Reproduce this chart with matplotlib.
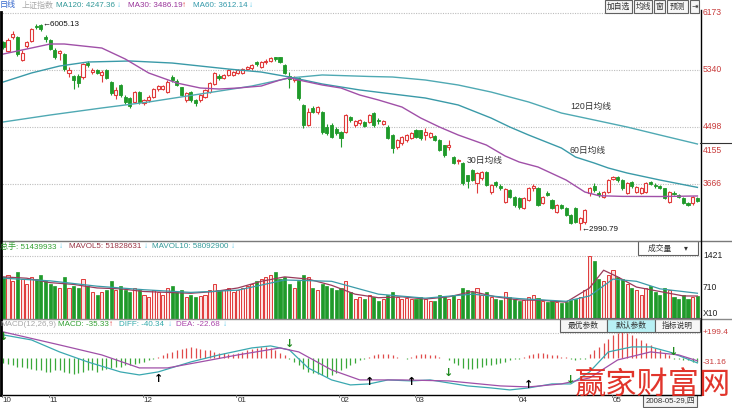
import matplotlib
matplotlib.use("Agg")
import matplotlib.pyplot as plt
from matplotlib.patches import Rectangle
from matplotlib.lines import Line2D
import numpy as np

plt.rcParams['font.family'] = ['Liberation Sans', 'Noto Sans CJK SC', 'DejaVu Sans']

# ---------------- data ----------------
opens = [5740, 5611, 5817, 5810, 5480, 5690, 5760, 5975, 5990, 5810,
         5770, 5625, 5582, 5567, 5289, 5245, 5245, 5230, 5440, 5300,
         5330, 5260, 5330, 5157, 4966, 5110, 4937, 4922, 4864, 5010,
         4850, 4893, 4937, 5054, 5060, 5010, 5225, 5170, 5083, 4893,
         5010, 4893, 4893, 4937, 5010, 5128, 5245, 5215, 5260, 5260,
         5290, 5290, 5347, 5360, 5450, 5376, 5450, 5465, 5520, 5520,
         5406, 5240, 5186, 5215, 4820, 4530, 4776, 4717, 4717, 4497,
         4526, 4468, 4424, 4424, 4643, 4526, 4550, 4570, 4570, 4700,
         4600, 4540, 4497, 4380, 4200, 4263, 4306, 4336, 4453, 4450,
         4380, 4350, 4365, 4306, 4230, 4200, 4057, 3995, 3970, 3790,
         3870, 3676, 3750, 3838, 3544, 3690, 3630, 3397, 3574, 3470,
         3456, 3310, 3427, 3600, 3603, 3383, 3530, 3427, 3251, 3353,
         3310, 3207, 3310, 3090, 3105, 3530, 3630, 3530, 3470, 3545,
         3735, 3760, 3720, 3530, 3690, 3545, 3530, 3545, 3690, 3650,
         3626, 3603, 3398, 3530, 3500, 3456, 3383, 3383, 3456]
highs = [5760, 5800, 5900, 5830, 5620, 5760, 5950, 6000, 6005.13, 5850,
         5790, 5660, 5630, 5580, 5380, 5260, 5270, 5430, 5460, 5360,
         5350, 5330, 5345, 5170, 5080, 5130, 4960, 4930, 5030, 5030,
         4910, 4960, 5070, 5110, 5120, 5180, 5260, 5200, 5090, 5010,
         5030, 4910, 4980, 5060, 5150, 5300, 5270, 5280, 5350, 5320,
         5345, 5360, 5390, 5420, 5470, 5460, 5490, 5520, 5522, 5530,
         5420, 5300, 5250, 5230, 4830, 4780, 4800, 4810, 4730, 4540,
         4560, 4490, 4440, 4690, 4660, 4600, 4620, 4590, 4690, 4720,
         4630, 4600, 4520, 4390, 4320, 4370, 4400, 4430, 4470, 4460,
         4480, 4430, 4380, 4320, 4240, 4300, 4070, 4030, 3980, 3800,
         3880, 3840, 3850, 3850, 3660, 3700, 3660, 3600, 3590, 3480,
         3470, 3470, 3620, 3660, 3620, 3490, 3560, 3440, 3370, 3370,
         3320, 3220, 3320, 3180, 3290, 3620, 3680, 3560, 3560, 3730,
         3786, 3780, 3730, 3690, 3700, 3630, 3620, 3690, 3710, 3670,
         3650, 3610, 3560, 3560, 3520, 3470, 3400, 3480, 3470]
lows = [5640, 5590, 5790, 5540, 5462, 5660, 5750, 5940, 5900, 5750,
        5620, 5500, 5480, 5320, 5230, 5054, 5080, 5200, 5370, 5270,
        5270, 5150, 5200, 4970, 4910, 4940, 4840, 4780, 4850, 4840,
        4820, 4870, 4920, 5030, 5040, 5000, 5160, 5100, 4950, 4870,
        4870, 4810, 4870, 4920, 5000, 5110, 5180, 5200, 5240, 5240,
        5270, 5280, 5330, 5340, 5390, 5360, 5420, 5450, 5470, 5430,
        5270, 5070, 5160, 4900, 4483, 4510, 4700, 4690, 4400, 4380,
        4330, 4380, 4204, 4410, 4570, 4490, 4530, 4490, 4550, 4500,
        4540, 4520, 4320, 4123, 4180, 4240, 4280, 4320, 4330, 4300,
        4300, 4330, 4290, 4150, 4060, 4160, 3950, 3950, 3650, 3610,
        3700, 3530, 3720, 3630, 3520, 3620, 3580, 3380, 3450, 3330,
        3300, 3290, 3410, 3560, 3340, 3370, 3480, 3300, 3230, 3290,
        3190, 3070, 3090, 2990.79, 3080, 3480, 3550, 3470, 3450, 3530,
        3720, 3690, 3580, 3510, 3610, 3530, 3510, 3530, 3640, 3600,
        3590, 3440, 3380, 3500, 3460, 3370, 3340, 3360, 3400]
closes = [5667, 5773, 5860, 5562, 5589, 5748, 5937, 5960, 5930, 5785,
          5634, 5530, 5611, 5347, 5330, 5186, 5142, 5420, 5400, 5335,
          5290, 5310, 5215, 4990, 5040, 4966, 4864, 4805, 5010, 4864,
          4893, 4937, 5054, 5098, 5098, 5157, 5190, 5115, 4966, 4996,
          4893, 4850, 4966, 5040, 5142, 5289, 5215, 5260, 5333, 5304,
          5330, 5347, 5376, 5406, 5420, 5450, 5470, 5508, 5500, 5450,
          5289, 5200, 5230, 4922, 4530, 4717, 4717, 4790, 4424, 4410,
          4350, 4410, 4336, 4672, 4600, 4585, 4600, 4510, 4670, 4526,
          4580, 4580, 4336, 4189, 4306, 4350, 4380, 4410, 4350, 4336,
          4420, 4410, 4306, 4160, 4087, 4240, 3970, 4010, 3676, 3705,
          3720, 3823, 3838, 3647, 3647, 3647, 3600, 3588, 3470, 3353,
          3324, 3456, 3603, 3630, 3353, 3471, 3500, 3310, 3353, 3310,
          3207, 3090, 3105, 3163, 3280, 3600, 3580, 3500, 3545, 3720,
          3760, 3720, 3603, 3676, 3630, 3615, 3600, 3676, 3665, 3630,
          3610, 3456, 3545, 3515, 3475, 3383, 3360, 3470, 3412]
volumes = [950, 1000, 850, 1050, 900, 800, 950, 900, 1000,
           850, 800, 750, 700, 950, 700, 750, 700, 900, 750, 600, 550, 600, 650, 850, 650, 750, 650, 600, 700, 650,
           550, 500, 650, 600, 550, 700, 750, 600, 650, 500, 550, 500, 520, 550, 650, 800, 650, 650, 700, 600,
           650, 700, 750, 800, 850, 900, 950, 1000, 1050, 900, 950, 800, 700, 850, 1000, 950, 700, 650, 800, 750, 700, 650,
           700, 850, 600, 450, 500, 450, 550, 500, 400, 450, 550, 600, 500, 450, 480, 450,
           450, 500, 450, 400, 400, 550, 500, 450, 550, 450, 700, 650, 600, 700, 550, 600, 500, 450, 420, 600, 500,
           450, 400, 420, 500, 550, 480, 400, 380, 400, 380, 350, 380, 420, 450, 500, 650,
           1421, 1300, 900, 850, 1000, 1100, 950, 900, 800, 700, 650, 550, 700, 750, 600, 550, 700, 650, 500, 450, 550, 450, 500, 514]

ma30_idx = [0, 10, 13, 21, 26, 31, 37, 42, 46, 50, 55, 59, 61, 63, 68, 72, 76, 80, 85, 89, 93, 97, 103, 107, 110, 114, 120, 124, 127, 132, 140, 148]
ma30_val = [5567, 5714, 5714, 5655, 5494, 5289, 5142, 5069, 5054, 5069, 5098, 5186, 5220, 5186, 5113, 5069, 4966, 4893, 4790, 4629, 4497, 4380, 4233, 4072, 3984, 3911, 3720, 3544, 3490, 3480, 3478, 3486]
ma60_idx = [0, 6, 12, 18, 27, 36, 42, 48, 55, 61, 68, 76, 90, 97, 104, 108, 112, 119, 122, 126, 129, 133, 140, 148]
ma60_val = [5157, 5289, 5391, 5450, 5465, 5435, 5391, 5347, 5303, 5230, 5128, 5040, 4922, 4820, 4629, 4497, 4380, 4189, 4057, 3969, 3896, 3823, 3720, 3612]
ma120_idx = [0, 10, 21, 31, 42, 53, 61, 68, 78, 83, 90, 97, 104, 112, 119, 126, 133, 140, 148]
ma120_val = [4571, 4673, 4776, 4864, 4981, 5098, 5216, 5260, 5238, 5230, 5186, 5113, 5010, 4864, 4702, 4600, 4497, 4380, 4248]

mavol5_idx = [0, 5, 10, 15, 20, 25, 30, 35, 40, 45, 50, 55, 60, 65, 70, 75, 80, 85, 90, 95, 100, 105, 110, 115, 120, 125, 128, 131, 135, 140, 145, 148]
mavol5_val = [950, 920, 820, 780, 700, 680, 620, 600, 580, 620, 700, 850, 950, 900, 760, 560, 480, 500, 450, 500, 620, 500, 430, 420, 380, 700, 1100, 950, 720, 620, 520, 518]
mavol10_idx = [0, 10, 20, 30, 40, 50, 60, 70, 80, 90, 100, 110, 120, 125, 130, 135, 140, 148]
mavol10_val = [920, 860, 740, 660, 600, 650, 880, 850, 560, 470, 560, 460, 400, 520, 900, 850, 680, 581]

macd_hist = [-40, -50, -60, -70, -70,
             -80, -90, -100, -100, -110, -110, -100, -100,
             -110, -120, -130, -120, -110, -100, -100, -110, -100, -90,
             -80, -70, -70, -60, -60, -50, -40, -30, -20, -10,
             10, 20, 40, 50, 60, 70, 80, 90, 80, 70, 60, 60,
             50, 40, 40, 30, 30,
             40, 50, 60, 70, 80, 90, 90, 80, 60, 40, 20,
             -10, -30, -60, -90, -110, -120, -130, -140, -150, -140, -120, -100, -80, -60, -40, -20,
             -10, 10, 20, 30, 30, 30, 20, 10, 0, -10,
             10, 20, 30, 30, 20, 20, 10, 0,
             -20, -40, -60, -80, -90, -90, -80, -70, -60, -60, -50, -40, -30, -20, -10, -5,
             10, 20, 30, 40, 40, 30, 20, 20, 10, 5,
             -10, -20, -10, -5,
             30, 60, 90, 120, 150, 180, 200, 210, 200, 180, 160, 140, 120, 100, 80, 60, 40, 20,
             -5, -10, -15, -20, -30, -35]
diff_idx = [0, 6, 12, 18, 25, 29, 33, 40, 46, 53, 57, 61, 65, 70, 74, 78, 82, 87, 91, 95, 99, 104, 108, 112, 117, 121, 125, 129, 134, 138, 142, 148]
diff_val = [184, 144, 48, -32, -112, -136, -112, -32, 24, 80, 96, 64, -80, -176, -216, -208, -176, -184, -176, -200, -224, -240, -256, -240, -208, -208, -112, 48, 88, 88, 48, -40]
dea_idx = [0, 12, 21, 29, 35, 42, 50, 59, 63, 70, 76, 85, 95, 106, 112, 119, 125, 131, 138, 144, 148]
dea_val = [208, 104, 24, -80, -80, -32, 24, 80, 48, -96, -176, -176, -184, -224, -232, -208, -160, -16, 48, 24, -23]
buy_idx = [33, 78, 87, 112]
buy_val = [-170, -195, -190, -215]
sell_idx = [0, 61, 95, 121, 143]
sell_val = [168, 110, -120, -180, 50]

month_idx = [0, 10, 30, 50, 72, 88, 110, 130]
month_lab = ['10', '11', '12', '01', '02', '03', '04', '05']
price_ticks = [6173, 5340, 4498, 4155, 3666]
vol_ticks = [1421, 710]

hdr_main = ['日线', '上证指数', 'MA120: 4247.36', '↓', 'MA30: 3486.19', '↑', 'MA60: 3612.14', '↓']
hdr_vol = ['总手: 51439933', '↓', 'MAVOL5: 51828631', '↓', 'MAVOL10: 58092900', '↓']
hdr_macd = ['MACD(12,26,9)', 'MACD: -35.33', '↑', 'DIFF: -40.34', '↓', 'DEA: -22.68', '↓']
top_buttons = ['加自选', '均线', '窗', '预测', '⇥']
macd_buttons = ['最优参数', '默认参数', '指标说明']

# ---------------- layout ----------------
W, H = 732, 408
fig = plt.figure(figsize=(W / 100, H / 100), dpi=100)
fig.patch.set_facecolor('white')


def rect(x0, y0, x1, y1):
    return [x0 / W, 1 - y1 / H, (x1 - x0) / W, (y1 - y0) / H]


def ptext(x, y, s, color='#000000', size=5.8, ha='left', va='center', **kw):
    fig.text(x / W, 1 - y / H, s, color=color, fontsize=size, ha=ha, va=va, **kw)


def hline(y, x0, x1, color, lw=1.0, ls='-'):
    fig.add_artist(Line2D([x0 / W, x1 / W], [1 - y / H, 1 - y / H], transform=fig.transFigure,
                          color=color, lw=lw, ls=ls))


def vline(x, y0, y1, color, lw=1.0):
    fig.add_artist(Line2D([x / W, x / W], [1 - y0 / H, 1 - y1 / H], transform=fig.transFigure,
                          color=color, lw=lw))


def button(x0, y0, x1, y1, s, face='#F4F4F4', size=5.6):
    fig.add_artist(Rectangle((x0 / W, 1 - y1 / H), (x1 - x0) / W, (y1 - y0) / H,
                             transform=fig.transFigure, facecolor=face, edgecolor='#606060', lw=0.8))
    ptext((x0 + x1) / 2, (y0 + y1) / 2 + 0.5, s, color='#333333', size=size, ha='center')


PX0, DX = 3.3, 4.69
XL = (-PX0 / DX, (700 - PX0) / DX)

ax = fig.add_axes(rect(0, 0, 700, 241))
axv = fig.add_axes(rect(0, 241, 700, 319))
axm = fig.add_axes(rect(0, 319, 700, 394))
for a in (ax, axv, axm):
    a.set_xlim(*XL)
    a.set_xticks([])
    a.set_yticks([])
    a.patch.set_alpha(0)
    for s in a.spines.values():
        s.set_visible(False)
ax.set_ylim(2826, 6359)
axv.set_ylim(0, 1759)
axm.set_ylim(-288.6, 311.4)

RED = '#E03A3A'
GREEN = '#1F9A2A'
n = len(closes)
x = np.arange(n)
o = np.array(opens, float)
c = np.array(closes, float)
hi = np.array(highs, float)
lo = np.array(lows, float)
up = c >= o
BW = 0.66

# grid
for p in [6173, 5340, 4498, 3666]:
    ax.axhline(p, color='#BDBDBD', lw=0.8, ls=(0, (1, 1.2)), zorder=0)
axv.axhline(1421, color='#BDBDBD', lw=0.8, ls=(0, (1, 1.2)), zorder=0)
axm.axhline(199.4, color='#BDBDBD', lw=0.8, ls=(0, (1, 1.2)), zorder=0)

# candles
ax.vlines(x[up], lo[up], hi[up], color=RED, lw=0.8, zorder=2)
ax.vlines(x[~up], lo[~up], hi[~up], color=GREEN, lw=0.8, zorder=2)
body_lo = np.minimum(o, c)
body_h = np.maximum(np.abs(c - o), 6)
ax.bar(x[up], body_h[up], bottom=body_lo[up], width=BW, facecolor='white', edgecolor=RED, lw=0.8, zorder=3)
ax.bar(x[~up], body_h[~up], bottom=body_lo[~up], width=BW, facecolor=GREEN, edgecolor=GREEN, lw=0.6, zorder=3)

ax.plot(ma120_idx, ma120_val, color='#4FA9B3', lw=1.0, zorder=4)
ax.plot(ma60_idx, ma60_val, color='#3A9AA8', lw=1.0, zorder=4)
ax.plot(ma30_idx, ma30_val, color='#A050A8', lw=1.0, zorder=4)

imax = int(np.argmax(hi))
imin = int(np.argmin(lo))
ax.text(imax + 0.3, hi[imax], '←' + format(hi[imax], '.2f'), fontsize=5.8, ha='left', va='center', color='#111111', zorder=5)
ax.text(imin + 0.2, lo[imin], '←' + format(lo[imin], '.2f'), fontsize=5.8, ha='left', va='center', color='#111111', zorder=5)

ptext(570, 106, '120日均线', color='#333333', size=6.3)
ptext(570, 150, '60日均线', color='#333333', size=6.3)
ptext(467, 160, '30日均线', color='#333333', size=6.3)

# volume
vol = np.array(volumes, float)
axv.bar(x[up], vol[up], width=BW, facecolor='#FBE3E3', edgecolor=RED, lw=0.7, zorder=2)
axv.bar(x[~up], vol[~up], width=BW, facecolor=GREEN, edgecolor=GREEN, lw=0.5, zorder=2)
axv.plot(mavol5_idx, mavol5_val, color='#9A3A5A', lw=0.9, zorder=3)
axv.plot(mavol10_idx, mavol10_val, color='#3A9AA8', lw=0.9, zorder=3)

# macd
hist = np.array(macd_hist, float)
axm.vlines(x[hist > 0], 0, hist[hist > 0], color='#E04A4A', lw=0.9, zorder=2)
axm.vlines(x[hist <= 0], 0, hist[hist <= 0], color='#3AA83A', lw=0.9, zorder=2)
axm.plot(diff_idx, diff_val, color='#3AA8B0', lw=0.9, zorder=3)
axm.plot(dea_idx, dea_val, color='#A050A8', lw=0.9, zorder=3)
for i, v in zip(buy_idx, buy_val):
    axm.text(i, v, '↑', color='#000000', fontsize=8, fontweight='bold', ha='center', va='center',
             family='DejaVu Sans', zorder=5)
for i, v in zip(sell_idx, sell_val):
    axm.text(i, v, '↓', color='#1F8A1F', fontsize=8, fontweight='bold', ha='center', va='center',
             family='DejaVu Sans', zorder=5)

# frame lines
hline(241, 0, 732, '#7A7A7A', 1.0)
hline(318.5, 0, 732, '#8A8A8A', 1.0)
hline(394.5, 0, 700, '#000000', 1.0)
vline(700.5, 10, 395, '#000000', 1.0)
vline(1, 12, 395, '#000000', 2.0)
hline(143, 700, 732, '#333333', 0.8)

# right labels
for p in price_ticks:
    yy = (6359 - p) / 14.66
    ptext(703, yy, str(p), color='#C83C3C', size=6.2)
ptext(703, 256, '1421', color='#222222', size=6.2)
ptext(703, 288, '710', color='#222222', size=6.2)
ptext(703, 313, 'X10', color='#222222', size=6.2)
ptext(703, 333, '+199.4', color='#C83C3C', size=6.0)
ptext(703, 363, '-31.16', color='#C83C3C', size=6.0)

# headers
hx = [0, 22, 56, 117, 128, 182, 193, 249]
hc = ['#3366CC', '#A8A8A8', '#339999', '#5BC8E8', '#993399', '#E03030', '#3399AA', '#5BC8E8']
for xx, s, col in zip(hx, hdr_main, hc):
    ptext(xx, 5.5, s, color=col, size=5.8)
vx = [0, 59, 69, 144, 152, 231]
vc = ['#33A033', '#5BC8E8', '#993344', '#5BC8E8', '#339999', '#5BC8E8']
for xx, s, col in zip(vx, hdr_vol, vc):
    ptext(xx, 247, s, color=col, size=5.8)
mx = [0, 58, 109, 119, 168, 176, 223]
mc = ['#A8A8A8', '#33A033', '#E03030', '#33AAAA', '#5BC8E8', '#AA44AA', '#5BC8E8']
for xx, s, col in zip(mx, hdr_macd, mc):
    ptext(xx, 325, s, color=col, size=5.8)

# buttons
bxs = [(605, 632), (634, 652), (654, 665), (667, 688), (690, 699)]
for (x0, x1), s in zip(bxs, top_buttons):
    button(x0, 0, x1, 13, s, face='#F6F6F6', size=5.6)
button(638, 241, 698, 255, '成交量      ▾', face='white', size=5.6)
mbx = [(560, 607), (607, 655), (655, 700)]
mfc = ['#F6F6F6', '#B8F0F4', '#F6F6F6']
for (x0, x1), s, fc in zip(mbx, macd_buttons, mfc):
    button(x0, 318, x1, 332, s, face=fc, size=5.6)

# months
for i, s in zip(month_idx, month_lab):
    px = PX0 + DX * i
    vline(px - 1.5, 394.5, 397, '#666666', 0.6)
    ptext(px - 0.5, 401, s, color='#333333', size=5.8)

# date box
button(643, 395, 697, 407, '2008-05-29,四', face='#F4F4F4', size=5.6)

# watermark
ptext(653, 386, '赢家财富网', color='#E02A20', size=22.5, ha='center', family=['Noto Sans CJK SC'],
      fontweight='light', alpha=0.95)

fig.savefig('out.png', dpi=100)
